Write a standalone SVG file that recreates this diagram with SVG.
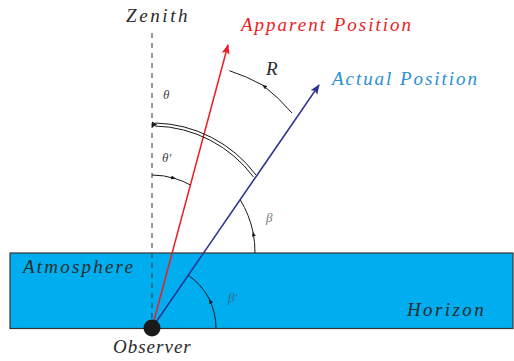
<svg xmlns="http://www.w3.org/2000/svg" width="514" height="361" viewBox="0 0 514 361">
<defs>
<marker id="ah" viewBox="0 0 10 10" refX="8" refY="5" markerWidth="5" markerHeight="5" orient="auto" markerUnits="userSpaceOnUse">
<path d="M0,1 L10,5 L0,9 Z" fill="#1a1a1a"/>
</marker>
<marker id="ahr" viewBox="0 0 10 10" refX="9" refY="5" markerWidth="10" markerHeight="10" orient="auto" markerUnits="userSpaceOnUse">
<path d="M0,1 L10,5 L0,9 L2,5 Z" fill="#ed1c24"/>
</marker>
<marker id="ahb" viewBox="0 0 10 10" refX="9" refY="5" markerWidth="10" markerHeight="10" orient="auto" markerUnits="userSpaceOnUse">
<path d="M0,1 L10,5 L0,9 L2,5 Z" fill="#2e3192"/>
</marker>
</defs>
<g id="atmosphere">
<rect x="10" y="253" width="503" height="75.5" fill="#00aeef" stroke="#333" stroke-width="1.2"/>
<text x="23" y="273" font-family="Liberation Serif" font-style="italic" font-size="19" fill="#2b2b2b" letter-spacing="2.2">Atmosphere</text>
<text x="407" y="316" font-family="Liberation Serif" font-style="italic" font-size="19" fill="#2b2b2b" letter-spacing="2.4">Horizon</text>
</g>
<g id="zenith">
<line x1="152" y1="33" x2="152" y2="328" stroke="#333" stroke-width="1" stroke-dasharray="5,5"/>
<text x="126" y="22" font-family="Liberation Serif" font-style="italic" font-size="19" fill="#2b2b2b" letter-spacing="2.6">Zenith</text>
</g>
<g id="connectors">
<line x1="152" y1="328" x2="228" y2="45" stroke="#ed1c24" stroke-width="1.5" marker-end="url(#ahr)"/>
<line x1="152" y1="328" x2="319" y2="85" stroke="#2e3192" stroke-width="1.5" marker-end="url(#ahb)"/>
<path fill="none" stroke="#1a1a1a" stroke-width="1" d="M216,328 A64,64 0 0 0 214.3,313.4"/>
<path fill="none" stroke="#1a1a1a" stroke-width="1" d="M214.3,313.4 A64,64 0 0 0 209.5,299.6" marker-end="url(#ah)"/>
<path fill="none" stroke="#1a1a1a" stroke-width="1" d="M209.5,299.6 A64,64 0 0 0 188.3,275.3"/>
<path fill="none" stroke="#1a1a1a" stroke-width="1" d="M255,253 A103,103 0 0 0 253.1,232.5" marker-end="url(#ah)"/>
<path fill="none" stroke="#1a1a1a" stroke-width="1" d="M253.1,232.5 A103,103 0 0 0 240.2,199.7"/>
<path fill="none" stroke="#1a1a1a" stroke-width="1" d="M152,175 A78,78 0 0 1 175,178.5" marker-end="url(#ah)"/>
<path fill="none" stroke="#1a1a1a" stroke-width="1" d="M175,178.5 A78,78 0 0 1 190.4,185"/>
<path fill="none" stroke="#1a1a1a" stroke-width="1" d="M256,175 A130,130 0 0 0 155,123"/>
<path fill="none" stroke="#1a1a1a" stroke-width="1" d="M253.5,177 A127,127 0 0 0 155,126"/>
<path d="M152,121.5 L157,124.5 L152,127.5 Z" fill="#1a1a1a"/>
<path fill="none" stroke="#1a1a1a" stroke-width="1" d="M292,113 A198,198 0 0 0 263,85.3" marker-end="url(#ah)"/>
<path fill="none" stroke="#1a1a1a" stroke-width="1" d="M263,85.3 A198,198 0 0 0 229.4,70.7"/>
</g>
<g id="observer">
<circle cx="152" cy="328" r="8.5" fill="#1a1a1a"/>
<text x="113" y="353" font-family="Liberation Serif" font-style="italic" font-size="19" fill="#2b2b2b" letter-spacing="1">Observer</text>
</g>
<g id="apparent">
<text x="241" y="31" font-family="Liberation Serif" font-style="italic" font-size="19" fill="#ed1c24" letter-spacing="2">Apparent Position</text>
</g>
<g id="actual">
<text x="332" y="85" font-family="Liberation Serif" font-style="italic" font-size="19" fill="#2b8fd0" letter-spacing="1.95">Actual Position</text>
</g>
<g id="labels">
<text x="163" y="99" font-family="Liberation Serif" font-style="italic" font-size="13" fill="#444">θ</text>
<text x="162" y="162" font-family="Liberation Serif" font-style="italic" font-size="13" fill="#444">θ′</text>
<text x="266" y="222" font-family="Liberation Serif" font-style="italic" font-size="13" fill="#777">β</text>
<text x="228" y="302" font-family="Liberation Serif" font-style="italic" font-size="13" fill="#3a6a8a">β′</text>
<text x="266" y="75" font-family="Liberation Serif" font-style="italic" font-size="19" fill="#2b2b2b">R</text>
</g>
</svg>
